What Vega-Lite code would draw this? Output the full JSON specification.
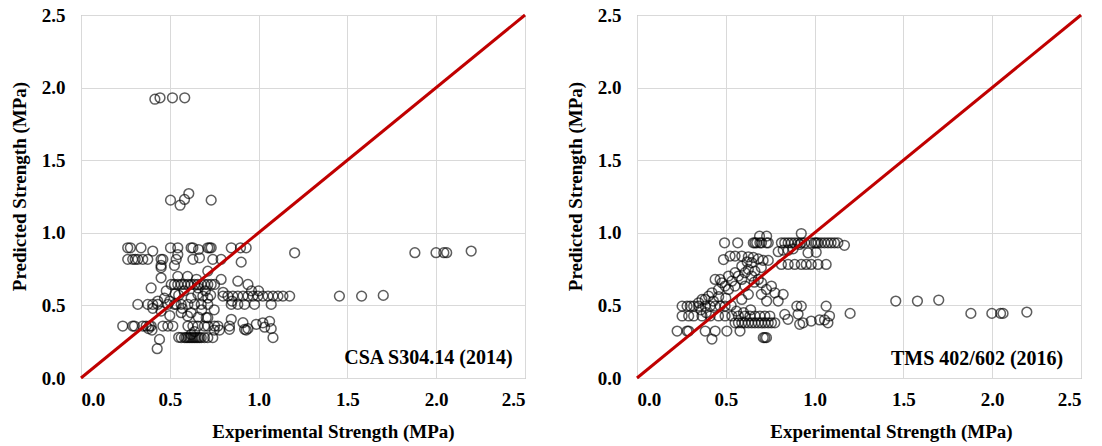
{
  "$schema": "https://vega.github.io/schema/vega-lite/v6.json",
  "padding": {"left": 9, "top": 5, "right": 10, "bottom": 2},
  "background": "white",
  "spacing": 33,
  "datasets": {
    "diag": [{"x": 0, "y": 0}, {"x": 2.5, "y": 2.5}],
    "csa": [
      {"x":0.416,"y":1.92},{"x":0.445,"y":1.93},{"x":0.515,"y":1.93},{"x":0.584,"y":1.93},
      {"x":0.504,"y":1.225},{"x":0.558,"y":1.19},{"x":0.583,"y":1.23},{"x":0.607,"y":1.27},{"x":0.733,"y":1.225},
      {"x":1.203,"y":0.862},{"x":1.88,"y":0.863},{"x":1.999,"y":0.863},{"x":2.043,"y":0.863},{"x":2.059,"y":0.863},{"x":2.197,"y":0.874},
      {"x":1.455,"y":0.564},{"x":1.58,"y":0.564},{"x":1.702,"y":0.569},
      {"x":0.429,"y":0.202},{"x":0.442,"y":0.266},
      {"x":0.263,"y":0.897},{"x":0.278,"y":0.897},{"x":0.338,"y":0.897},{"x":0.504,"y":0.897},{"x":0.545,"y":0.897},{"x":0.62,"y":0.897},{"x":0.63,"y":0.897},{"x":0.714,"y":0.897},{"x":0.724,"y":0.897},{"x":0.733,"y":0.897},{"x":0.846,"y":0.897},{"x":0.898,"y":0.897},{"x":0.93,"y":0.897},
      {"x":0.662,"y":0.885},{"x":0.404,"y":0.874},{"x":0.545,"y":0.85},
      {"x":0.263,"y":0.817},{"x":0.291,"y":0.817},{"x":0.305,"y":0.817},{"x":0.32,"y":0.817},{"x":0.348,"y":0.817},{"x":0.376,"y":0.817},{"x":0.451,"y":0.817},{"x":0.461,"y":0.817},{"x":0.536,"y":0.817},{"x":0.63,"y":0.817},{"x":0.742,"y":0.817},{"x":0.789,"y":0.817},
      {"x":0.902,"y":0.798},{"x":0.451,"y":0.775},{"x":0.451,"y":0.76},{"x":0.526,"y":0.775},{"x":0.714,"y":0.736},{"x":0.667,"y":0.828},
      {"x":0.508,"y":0.644},{"x":0.526,"y":0.644},{"x":0.545,"y":0.644},{"x":0.564,"y":0.644},{"x":0.583,"y":0.644},{"x":0.602,"y":0.644},{"x":0.62,"y":0.644},{"x":0.639,"y":0.644},{"x":0.658,"y":0.644},{"x":0.677,"y":0.644},{"x":0.695,"y":0.644},{"x":0.714,"y":0.644},{"x":0.733,"y":0.644},{"x":0.752,"y":0.644},
      {"x":0.451,"y":0.69},{"x":0.395,"y":0.62},{"x":0.545,"y":0.7},{"x":0.789,"y":0.679},{"x":0.94,"y":0.644},{"x":0.883,"y":0.667},{"x":0.6,"y":0.7},{"x":0.65,"y":0.68},{"x":0.7,"y":0.6},{"x":0.48,"y":0.6},{"x":0.53,"y":0.58},
      {"x":0.799,"y":0.564},{"x":0.827,"y":0.564},{"x":0.855,"y":0.564},{"x":0.883,"y":0.564},{"x":0.912,"y":0.564},{"x":0.94,"y":0.564},{"x":0.968,"y":0.564},{"x":0.996,"y":0.564},{"x":1.024,"y":0.564},{"x":1.053,"y":0.564},{"x":1.081,"y":0.564},{"x":1.109,"y":0.564},{"x":1.137,"y":0.564},{"x":1.175,"y":0.564},
      {"x":0.658,"y":0.576},{"x":0.686,"y":0.564},{"x":0.714,"y":0.55},{"x":0.8,"y":0.59},{"x":0.96,"y":0.6},{"x":1.0,"y":0.6},{"x":0.85,"y":0.53},{"x":0.55,"y":0.57},{"x":0.62,"y":0.55},
      {"x":0.32,"y":0.507},{"x":0.376,"y":0.507},{"x":0.404,"y":0.507},{"x":0.432,"y":0.507},{"x":0.489,"y":0.507},{"x":0.536,"y":0.507},{"x":0.564,"y":0.507},{"x":0.602,"y":0.507},{"x":0.639,"y":0.507},{"x":0.677,"y":0.507},{"x":0.714,"y":0.507},{"x":0.846,"y":0.507},{"x":0.883,"y":0.507},{"x":0.921,"y":0.507},{"x":0.977,"y":0.507},{"x":1.071,"y":0.507},
      {"x":0.432,"y":0.53},{"x":0.451,"y":0.461},{"x":0.404,"y":0.48},{"x":0.526,"y":0.507},{"x":0.564,"y":0.45},{"x":0.6,"y":0.427},{"x":0.62,"y":0.45},{"x":0.705,"y":0.415},{"x":0.714,"y":0.415},{"x":0.846,"y":0.404},{"x":0.912,"y":0.381},{"x":0.93,"y":0.33},{"x":0.94,"y":0.34},{"x":0.68,"y":0.47},{"x":0.75,"y":0.47},
      {"x":0.235,"y":0.358},{"x":0.291,"y":0.358},{"x":0.301,"y":0.358},{"x":0.348,"y":0.358},{"x":0.367,"y":0.358},{"x":0.385,"y":0.358},{"x":0.395,"y":0.358},{"x":0.461,"y":0.358},{"x":0.489,"y":0.358},{"x":0.517,"y":0.358},{"x":0.602,"y":0.358},{"x":0.63,"y":0.358},{"x":0.658,"y":0.358},{"x":0.695,"y":0.358},{"x":0.714,"y":0.358},{"x":0.752,"y":0.358},{"x":0.771,"y":0.358},{"x":0.836,"y":0.358},
      {"x":0.921,"y":0.335},{"x":0.987,"y":0.37},{"x":1.024,"y":0.38},{"x":1.062,"y":0.39},{"x":1.071,"y":0.34},{"x":1.034,"y":0.35},{"x":1.081,"y":0.278},{"x":0.836,"y":0.335},{"x":0.4,"y":0.33},{"x":0.38,"y":0.34},{"x":0.75,"y":0.33},{"x":0.78,"y":0.33},
      {"x":0.564,"y":0.278},{"x":0.583,"y":0.278},{"x":0.592,"y":0.278},{"x":0.602,"y":0.278},{"x":0.611,"y":0.278},{"x":0.62,"y":0.278},{"x":0.63,"y":0.278},{"x":0.639,"y":0.278},{"x":0.648,"y":0.278},{"x":0.658,"y":0.278},{"x":0.667,"y":0.278},{"x":0.677,"y":0.278},{"x":0.695,"y":0.278},{"x":0.714,"y":0.278},{"x":0.742,"y":0.278},
      {"x":0.55,"y":0.28},{"x":0.62,"y":0.3},{"x":0.64,"y":0.32},
      {"x":0.47,"y":0.55},{"x":0.5,"y":0.53},{"x":0.58,"y":0.6},{"x":0.66,"y":0.62},{"x":0.73,"y":0.57},{"x":0.57,"y":0.48},{"x":0.66,"y":0.42},{"x":0.5,"y":0.43}
    ],
    "tms": [
      {"x":1.457,"y":0.53},{"x":1.579,"y":0.53},{"x":1.699,"y":0.537},{"x":1.88,"y":0.445},{"x":1.998,"y":0.445},{"x":2.047,"y":0.445},{"x":2.061,"y":0.445},{"x":2.195,"y":0.454},{"x":1.2,"y":0.445},
      {"x":0.493,"y":0.931},{"x":0.567,"y":0.931},{"x":0.655,"y":0.931},{"x":0.664,"y":0.931},{"x":0.674,"y":0.931},{"x":0.692,"y":0.931},{"x":0.701,"y":0.931},{"x":0.729,"y":0.931},{"x":0.739,"y":0.931},{"x":0.813,"y":0.931},{"x":0.832,"y":0.931},{"x":0.851,"y":0.931},{"x":0.869,"y":0.931},{"x":0.888,"y":0.931},{"x":0.907,"y":0.931},{"x":0.925,"y":0.931},{"x":0.944,"y":0.931},{"x":0.981,"y":0.931},{"x":1.0,"y":0.931},{"x":1.009,"y":0.931},{"x":1.019,"y":0.931},{"x":1.037,"y":0.931},{"x":1.056,"y":0.931},{"x":1.075,"y":0.931},{"x":1.093,"y":0.931},{"x":1.112,"y":0.931},{"x":1.131,"y":0.931},{"x":1.168,"y":0.914},
      {"x":0.925,"y":0.995},{"x":0.69,"y":0.977},{"x":0.73,"y":0.977},
      {"x":0.487,"y":0.816},{"x":0.524,"y":0.84},{"x":0.552,"y":0.84},{"x":0.59,"y":0.84},{"x":0.627,"y":0.835},{"x":0.655,"y":0.83},{"x":0.683,"y":0.82},{"x":0.71,"y":0.81},{"x":0.739,"y":0.81},
      {"x":0.813,"y":0.782},{"x":0.851,"y":0.782},{"x":0.888,"y":0.782},{"x":0.925,"y":0.782},{"x":0.953,"y":0.782},{"x":0.981,"y":0.782},{"x":1.019,"y":0.782},{"x":1.065,"y":0.782},
      {"x":0.795,"y":0.87},{"x":0.823,"y":0.88},{"x":0.851,"y":0.88},{"x":0.879,"y":0.89},{"x":0.916,"y":0.92},{"x":0.963,"y":0.862},{"x":1.009,"y":0.866},
      {"x":0.44,"y":0.679},{"x":0.468,"y":0.679},{"x":0.478,"y":0.656},{"x":0.515,"y":0.702},{"x":0.534,"y":0.667},{"x":0.552,"y":0.725},{"x":0.571,"y":0.702},{"x":0.59,"y":0.679},{"x":0.608,"y":0.725},{"x":0.627,"y":0.748},{"x":0.646,"y":0.702},{"x":0.664,"y":0.736},{"x":0.683,"y":0.679},{"x":0.701,"y":0.656},{"x":0.729,"y":0.61},{"x":0.757,"y":0.633},{"x":0.608,"y":0.633},{"x":0.552,"y":0.633},{"x":0.515,"y":0.61},{"x":0.459,"y":0.61},{"x":0.422,"y":0.587},{"x":0.403,"y":0.564},{"x":0.384,"y":0.541},{"x":0.366,"y":0.541},{"x":0.347,"y":0.518},{"x":0.496,"y":0.633},{"x":0.646,"y":0.794},{"x":0.59,"y":0.771},
      {"x":0.776,"y":0.587},{"x":0.823,"y":0.576},{"x":0.795,"y":0.53},{"x":0.7,"y":0.576},{"x":0.73,"y":0.53},{"x":0.627,"y":0.576},{"x":0.59,"y":0.541},
      {"x":0.254,"y":0.495},{"x":0.282,"y":0.495},{"x":0.3,"y":0.495},{"x":0.319,"y":0.495},{"x":0.347,"y":0.495},{"x":0.384,"y":0.495},{"x":0.412,"y":0.495},{"x":0.44,"y":0.495},{"x":0.468,"y":0.495},{"x":0.496,"y":0.495},
      {"x":0.254,"y":0.427},{"x":0.291,"y":0.427},{"x":0.319,"y":0.427},{"x":0.366,"y":0.427},{"x":0.412,"y":0.427},{"x":0.459,"y":0.427},{"x":0.496,"y":0.427},{"x":0.534,"y":0.427},{"x":0.571,"y":0.427},{"x":0.608,"y":0.427},{"x":0.636,"y":0.427},{"x":0.664,"y":0.427},{"x":0.692,"y":0.427},{"x":0.72,"y":0.427},{"x":0.748,"y":0.427},
      {"x":0.552,"y":0.38},{"x":0.571,"y":0.38},{"x":0.59,"y":0.38},{"x":0.608,"y":0.38},{"x":0.627,"y":0.38},{"x":0.646,"y":0.38},{"x":0.664,"y":0.38},{"x":0.683,"y":0.38},{"x":0.701,"y":0.38},{"x":0.72,"y":0.38},{"x":0.739,"y":0.38},{"x":0.757,"y":0.38},{"x":0.776,"y":0.38},
      {"x":0.226,"y":0.323},{"x":0.282,"y":0.323},{"x":0.291,"y":0.323},{"x":0.384,"y":0.323},{"x":0.44,"y":0.323},{"x":0.506,"y":0.323},{"x":0.58,"y":0.323},
      {"x":0.422,"y":0.268},{"x":0.711,"y":0.278},{"x":0.72,"y":0.278},{"x":0.729,"y":0.278},
      {"x":0.832,"y":0.438},{"x":0.85,"y":0.404},{"x":0.9,"y":0.495},{"x":0.925,"y":0.495},{"x":0.907,"y":0.44},{"x":0.916,"y":0.37},{"x":0.935,"y":0.38},{"x":0.981,"y":0.392},{"x":1.028,"y":0.4},{"x":1.056,"y":0.4},{"x":1.065,"y":0.495},{"x":1.075,"y":0.38},{"x":1.084,"y":0.427},
      {"x":0.43,"y":0.53},{"x":0.46,"y":0.56},{"x":0.5,"y":0.55},{"x":0.53,"y":0.5},{"x":0.56,"y":0.46},{"x":0.6,"y":0.45},{"x":0.64,"y":0.47},{"x":0.36,"y":0.47},{"x":0.39,"y":0.45},{"x":0.62,"y":0.8},{"x":0.7,"y":0.76},{"x":0.66,"y":0.66}
    ]
  },
  "config": {
    "view": {"stroke": "#a0a0a0", "strokeWidth": 1},
    "axis": {
      "labelFont": "Liberation Serif", "labelFontWeight": "bold", "labelFontSize": 19, "labelColor": "black",
      "titleFont": "Liberation Serif", "titleFontSize": 19, "titleFontWeight": "bold", "titleColor": "black",
      "gridColor": "#d9d9d9", "gridWidth": 1, "domain": false, "ticks": false
    }
  },
  "hconcat": [
    {
      "width": 444, "height": 363,
      "layer": [
        {
          "data": {"name": "csa"},
          "mark": {"type": "point", "shape": "circle", "filled": false, "stroke": "black", "strokeWidth": 1.5, "size": 95, "strokeOpacity": 0.9},
          "encoding": {
            "x": {"field": "x", "type": "quantitative", "scale": {"domain": [0, 2.5], "nice": false}, "axis": {"values": [0, 0.5, 1, 1.5, 2, 2.5], "format": ".1f", "labelPadding": 12, "titlePadding": 13, "titleX": 252, "title": "Experimental Strength (MPa)"}},
            "y": {"field": "y", "type": "quantitative", "scale": {"domain": [0, 2.5], "nice": false}, "axis": {"values": [0, 0.5, 1, 1.5, 2, 2.5], "format": ".1f", "labelPadding": 16, "titlePadding": 12, "titleY": 171, "title": "Predicted Strength (MPa)"}}
          }
        },
        {
          "data": {"name": "diag"},
          "mark": {"type": "line", "color": "#c00000", "strokeWidth": 3},
          "encoding": {"x": {"field": "x", "type": "quantitative"}, "y": {"field": "y", "type": "quantitative"}}
        },
        {
          "data": {"values": [{"x": 2.43, "y": 0.135, "label": "CSA S304.14 (2014)"}]},
          "mark": {"type": "text", "align": "right", "baseline": "middle", "font": "Liberation Serif", "fontWeight": "bold", "fontSize": 20, "color": "black"},
          "encoding": {"x": {"field": "x", "type": "quantitative"}, "y": {"field": "y", "type": "quantitative"}, "text": {"field": "label"}}
        }
      ]
    },
    {
      "width": 444, "height": 363,
      "layer": [
        {
          "data": {"name": "tms"},
          "mark": {"type": "point", "shape": "circle", "filled": false, "stroke": "black", "strokeWidth": 1.5, "size": 95, "strokeOpacity": 0.9},
          "encoding": {
            "x": {"field": "x", "type": "quantitative", "scale": {"domain": [0, 2.5], "nice": false}, "axis": {"values": [0, 0.5, 1, 1.5, 2, 2.5], "format": ".1f", "labelPadding": 12, "titlePadding": 13, "titleX": 254, "title": "Experimental Strength (MPa)"}},
            "y": {"field": "y", "type": "quantitative", "scale": {"domain": [0, 2.5], "nice": false}, "axis": {"values": [0, 0.5, 1, 1.5, 2, 2.5], "format": ".1f", "labelPadding": 16, "titlePadding": 12, "titleY": 171, "title": "Predicted Strength (MPa)"}}
          }
        },
        {
          "data": {"name": "diag"},
          "mark": {"type": "line", "color": "#c00000", "strokeWidth": 3},
          "encoding": {"x": {"field": "x", "type": "quantitative"}, "y": {"field": "y", "type": "quantitative"}}
        },
        {
          "data": {"values": [{"x": 2.4, "y": 0.13, "label": "TMS 402/602 (2016)"}]},
          "mark": {"type": "text", "align": "right", "baseline": "middle", "font": "Liberation Serif", "fontWeight": "bold", "fontSize": 20, "color": "black"},
          "encoding": {"x": {"field": "x", "type": "quantitative"}, "y": {"field": "y", "type": "quantitative"}, "text": {"field": "label"}}
        }
      ]
    }
  ]
}
